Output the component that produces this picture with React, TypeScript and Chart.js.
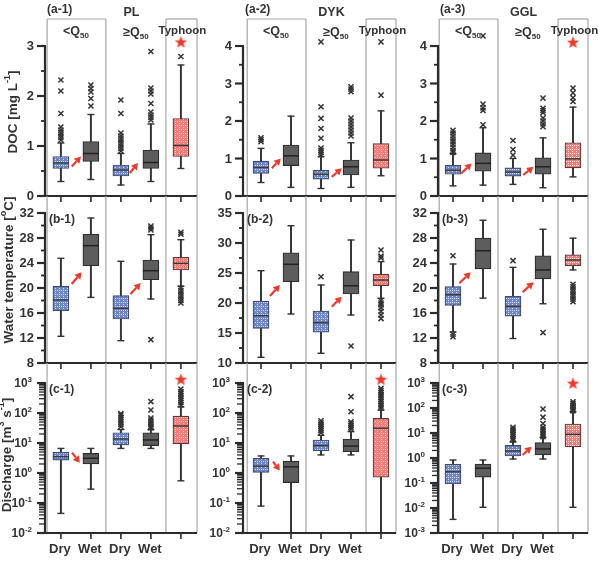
import React, { useEffect, useRef } from 'react';
import { Chart, registerables } from 'chart.js';

Chart.register(...registerables);

// ---------------- data ----------------
const CATEGORIES = ['Dry', 'Wet', 'Dry', 'Wet', 'Typhoon'];
const X_TICK_LABELS = ['Dry', 'Wet', 'Dry', 'Wet', ''];
const SITES = ['PL', 'DYK', 'GGL'];
const PANEL_TAGS = [
  ['(a-1)', '(a-2)', '(a-3)'],
  ['(b-1)', '(b-2)', '(b-3)'],
  ['(c-1)', '(c-2)', '(c-3)'],
];

// box stats per category: [lower whisker, Q1, median, Q3, upper whisker]
// DOC [mg L-1]
const PL_DOC = [
  [0.29, 0.55, 0.66, 0.79, 1.06],
  [0.33, 0.69, 0.85, 1.09, 1.63],
  [0.22, 0.40, 0.52, 0.62, 0.85],
  [0.29, 0.55, 0.67, 0.92, 1.44],
  [0.55, 0.79, 1.01, 1.55, 2.62],
];
const PL_DOC_OUT = [
  [2.32, 2.1, 1.65, 1.38, 1.32, 1.27, 1.22, 1.17, 1.12],
  [2.22, 2.15, 2.08, 1.95, 1.8],
  [1.92, 1.65, 1.26, 1.2, 1.15, 1.1, 1.05, 1.0, 0.95, 0.9],
  [2.89, 2.16, 2.1, 2.04, 1.85, 1.68, 1.62, 1.57, 1.52],
  [2.79],
];
const PL_DOC_STAR = 3.08;
const PL_DOC_ARROWS = [[0.36, 0.59, 0.67, 0.79], [2.3, 0.46, 2.57, 0.66]];

const DYK_DOC = [
  [0.36, 0.6, 0.76, 0.93, 1.27],
  [0.23, 0.81, 1.07, 1.36, 2.13],
  [0.2, 0.45, 0.58, 0.69, 1.05],
  [0.23, 0.56, 0.78, 0.96, 1.42],
  [0.54, 0.74, 0.96, 1.4, 2.27],
];
const DYK_DOC_OUT = [
  [1.55, 1.5, 1.45],
  [],
  [4.11, 2.38, 2.07, 1.8, 1.54, 1.28, 1.22, 1.16, 1.1],
  [2.91, 2.85, 2.78, 2.08, 2.0, 1.92, 1.84, 1.76, 1.68, 1.6],
  [4.11, 2.69],
];
const DYK_DOC_STAR = null;
const DYK_DOC_ARROWS = [[0.36, 0.74, 0.66, 1.0], [2.36, 0.51, 2.69, 0.74]];

const GGL_DOC = [
  [0.27, 0.58, 0.69, 0.82, 1.13],
  [0.29, 0.66, 0.87, 1.15, 1.82],
  [0.31, 0.53, 0.64, 0.75, 1.0],
  [0.22, 0.58, 0.78, 1.02, 1.55],
  [0.51, 0.75, 0.99, 1.42, 2.37],
];
const GGL_DOC_OUT = [
  [1.75, 1.68, 1.6, 1.52, 1.45, 1.38, 1.3, 1.22, 1.16],
  [4.27, 2.45, 2.35, 2.28, 1.9],
  [1.48, 1.24, 1.09],
  [2.61, 2.34, 2.28, 2.22, 2.08, 2.0, 1.92, 1.85],
  [2.88, 2.75, 2.62, 2.52],
];
const GGL_DOC_STAR = 4.1;
const GGL_DOC_ARROWS = [[0.27, 0.6, 0.62, 0.87], [2.34, 0.56, 2.68, 0.78]];

// Water temperature [°C]
const PL_WT = [
  [12.27, 16.37, 18.08, 20.27, 24.75],
  [18.5, 23.57, 26.77, 28.59, 31.2],
  [11.57, 15.04, 16.75, 18.77, 24.27],
  [18.24, 21.33, 22.77, 24.48, 28.53],
  [20.27, 22.88, 23.95, 24.91, 27.73],
];
const PL_WT_OUT = [
  [],
  [],
  [],
  [29.9, 29.6, 29.3, 11.73],
  [28.9, 28.6, 20.0, 19.6, 19.2, 18.8, 18.4, 18.0, 17.6],
];
const PL_WT_ARROWS = [[0.36, 20.64, 0.69, 22.51], [2.32, 19.04, 2.66, 20.8]];

const DYK_WT = [
  [10.95, 15.78, 17.88, 20.33, 25.38],
  [18.17, 23.55, 26.45, 28.38, 32.88],
  [11.62, 15.12, 16.72, 18.67, 23.0],
  [18.0, 21.5, 22.88, 25.22, 30.5],
  [20.78, 22.88, 23.83, 24.83, 26.9],
];
const DYK_WT_OUT = [
  [],
  [],
  [24.38],
  [12.83],
  [28.83, 27.8, 27.5, 20.4, 20.0, 19.7, 19.2, 18.6, 18.0, 17.4],
];
const DYK_WT_ARROWS = [[0.3, 21.17, 0.63, 23.0], [2.36, 19.38, 2.69, 21.05]];

const GGL_WT = [
  [12.97, 17.21, 18.92, 20.24, 23.84],
  [18.38, 23.05, 25.96, 27.97, 30.84],
  [11.92, 15.51, 17.06, 18.65, 23.3],
  [17.48, 21.45, 22.89, 25.16, 29.4],
  [22.89, 23.57, 24.48, 25.32, 27.97],
];
const GGL_WT_OUT = [
  [25.16, 12.6, 12.2],
  [],
  [24.37],
  [12.87],
  [20.6, 20.2, 19.8, 19.4, 19.0, 18.6, 18.2, 17.8],
];
const GGL_WT_ARROWS = [[0.21, 20.76, 0.59, 22.51], [2.32, 19.33, 2.68, 20.92]];

// Discharge [m3 s-1]
const PL_Q = [
  [0.045, 2.7, 3.5, 4.9, 6.6],
  [0.29, 2.0, 3.1, 4.5, 6.6],
  [6.6, 8.6, 13.6, 22, 28],
  [6.6, 8.2, 12.6, 22, 28],
  [0.55, 9.3, 37, 79, 160],
];
const PL_Q_OUT = [
  [],
  [],
  [35, 42, 50, 60, 72, 85, 95],
  [240, 126, 68, 58, 50, 42, 36, 32],
  [185, 220, 260, 310, 370, 440, 520, 630],
];
const PL_Q_STAR = 1330;
const PL_Q_ARROWS = [[0.37, 4.8, 0.63, 2.2]];

const DYK_Q = [
  [0.079, 1.05, 1.7, 3.1, 3.7],
  [0.01, 0.48, 1.6, 2.5, 3.7],
  [4.0, 5.5, 8.2, 12.6, 18],
  [4.0, 5.1, 7.9, 13.6, 24],
  [0.01, 0.72, 31, 66, 126],
];
const DYK_Q_OUT = [
  [],
  [],
  [22, 26, 30, 35, 40, 47, 55],
  [350, 110, 51, 44, 38, 33, 29],
  [145, 170, 200, 240, 290, 340, 400, 480, 560, 660],
];
const DYK_Q_STAR = 1330;
const DYK_Q_ARROWS = [[0.4, 2.4, 0.63, 1.2]];

const GGL_Q = [
  [0.0035, 0.091, 0.28, 0.56, 0.83],
  [0.0107, 0.17, 0.39, 0.57, 0.83],
  [0.91, 1.2, 1.9, 3.2, 4.5],
  [0.91, 1.32, 2.3, 4.1, 6.7],
  [0.0107, 2.8, 8.9, 23, 71],
];
const GGL_Q_OUT = [
  [],
  [],
  [5.2, 6.2, 7.4, 8.8, 10.5, 12.5, 14.5, 17],
  [91, 43, 24, 17, 14, 12, 10, 8.5, 7.2],
  [77, 88, 100, 115, 130, 150, 178],
];
const GGL_Q_STAR = 980;
const GGL_Q_ARROWS = [[2.32, 1.32, 2.62, 2.8]];

// axis ticks (log rows: exponents of ten)
const DOC_TICKS_PL = [0, 1, 2, 3];
const DOC_TICKS_DYK = [0, 1, 2, 3, 4];
const DOC_TICKS_GGL = [0, 1, 2, 3, 4];
const WT_TICKS_PL = [8, 12, 16, 20, 24, 28, 32];
const WT_TICKS_DYK = [10, 15, 20, 25, 30, 35];
const WT_TICKS_GGL = [8, 12, 16, 20, 24, 28, 32];
const Q_EXP_PL = [-2, -1, 0, 1, 2, 3];
const Q_EXP_DYK = [-2, -1, 0, 1, 2, 3];
const Q_EXP_GGL = [-3, -2, -1, 0, 1, 2, 3];

type Part = { t: string; s?: 'sup' | 'sub' };
const Y_TITLES: Part[][] = [
  [{ t: 'DOC [mg L' }, { t: '-1', s: 'sup' }, { t: ']' }],
  [{ t: 'Water temperature [' }, { t: 'o', s: 'sup' }, { t: 'C]' }],
  [{ t: 'Discharge [m' }, { t: '3', s: 'sup' }, { t: ' s' }, { t: '-1', s: 'sup' }, { t: ']' }],
];

// ---------------- layout / style ----------------
type PanelSpec = {
  row: number; col: number; box: number[][]; out: number[][]; star: number | null;
  arrows: number[][]; ticks: number[]; log: boolean;
};

const PANELS: PanelSpec[] = [
  { row: 0, col: 0, box: PL_DOC, out: PL_DOC_OUT, star: PL_DOC_STAR, arrows: PL_DOC_ARROWS, ticks: DOC_TICKS_PL, log: false },
  { row: 0, col: 1, box: DYK_DOC, out: DYK_DOC_OUT, star: DYK_DOC_STAR, arrows: DYK_DOC_ARROWS, ticks: DOC_TICKS_DYK, log: false },
  { row: 0, col: 2, box: GGL_DOC, out: GGL_DOC_OUT, star: GGL_DOC_STAR, arrows: GGL_DOC_ARROWS, ticks: DOC_TICKS_GGL, log: false },
  { row: 1, col: 0, box: PL_WT, out: PL_WT_OUT, star: null, arrows: PL_WT_ARROWS, ticks: WT_TICKS_PL, log: false },
  { row: 1, col: 1, box: DYK_WT, out: DYK_WT_OUT, star: null, arrows: DYK_WT_ARROWS, ticks: WT_TICKS_DYK, log: false },
  { row: 1, col: 2, box: GGL_WT, out: GGL_WT_OUT, star: null, arrows: GGL_WT_ARROWS, ticks: WT_TICKS_GGL, log: false },
  { row: 2, col: 0, box: PL_Q, out: PL_Q_OUT, star: PL_Q_STAR, arrows: PL_Q_ARROWS, ticks: Q_EXP_PL, log: true },
  { row: 2, col: 1, box: DYK_Q, out: DYK_Q_OUT, star: DYK_Q_STAR, arrows: DYK_Q_ARROWS, ticks: Q_EXP_DYK, log: true },
  { row: 2, col: 2, box: GGL_Q, out: GGL_Q_OUT, star: GGL_Q_STAR, arrows: GGL_Q_ARROWS, ticks: Q_EXP_GGL, log: true },
];

const COLS = [
  { axisX: 45, right: 197, xMin: -0.53 },
  { axisX: 243, right: 396, xMin: -0.6 },
  { axisX: 438, right: 588, xMin: -0.5 },
];
const ROWS = [
  { top: 19, tickTop: 46, bottom: 196 },
  { top: 196, tickTop: 213, bottom: 363 },
  { top: 363, tickTop: 383, bottom: 533 },
];
const TITLE_POS = [[13, 112], [9, 270], [7, 455]];
const PX_PER_CAT = 30;
const FRAME_LEFT = -0.46;
const PAD_L = 45, PAD_T = 19, PAD_R = 14, PAD_B = 26;

const FONT = '"Liberation Sans", Arial, sans-serif';
const TXT = '#333333';
const AXIS = '#2b2b2b';
const GRID = '#a5a5a5';
const RED = '#ee3a2b';

function geometry(p: PanelSpec) {
  const c = COLS[p.col], r = ROWS[p.row];
  const plotW = c.right - c.axisX, plotH = r.bottom - r.top;
  return {
    left: c.axisX - PAD_L,
    top: r.top - PAD_T,
    width: plotW + PAD_L + PAD_R,
    height: plotH + PAD_T + PAD_B,
    xMin: c.xMin,
    xMax: c.xMin + plotW / PX_PER_CAT,
  };
}

function yRange(p: PanelSpec) {
  const r = ROWS[p.row];
  const t0 = p.ticks[0], t1 = p.ticks[p.ticks.length - 1];
  const per = (t1 - t0) / (r.bottom - r.tickTop);
  const topV = t1 + (r.tickTop - r.top) * per;
  return p.log ? { min: Math.pow(10, t0), max: Math.pow(10, topV) } : { min: t0, max: topV };
}

function rich(ctx: CanvasRenderingContext2D, parts: Part[], x: number, y: number, align: 'left' | 'center' | 'right', size: number) {
  const small = Math.round(size * 0.66);
  const widths = parts.map((q) => {
    ctx.font = `bold ${q.s ? small : size}px ${FONT}`;
    return ctx.measureText(q.t).width;
  });
  const total = widths.reduce((a, b) => a + b, 0);
  let cx = align === 'left' ? x : align === 'center' ? x - total / 2 : x - total;
  ctx.textAlign = 'left';
  ctx.textBaseline = 'middle';
  parts.forEach((q, i) => {
    ctx.font = `bold ${q.s ? small : size}px ${FONT}`;
    const dy = q.s === 'sup' ? -size * 0.38 : q.s === 'sub' ? size * 0.3 : 0;
    ctx.fillText(q.t, cx, y + dy);
    cx += widths[i];
  });
}

function seg(ctx: CanvasRenderingContext2D, x0: number, y0: number, x1: number, y1: number) {
  ctx.beginPath();
  ctx.moveTo(x0, y0);
  ctx.lineTo(x1, y1);
  ctx.stroke();
}

function drawArrow(ctx: CanvasRenderingContext2D, x0: number, y0: number, x1: number, y1: number) {
  const ang = Math.atan2(y1 - y0, x1 - x0);
  const hl = 6.5, hw = 3.8;
  const bx = x1 - hl * Math.cos(ang), by = y1 - hl * Math.sin(ang);
  ctx.strokeStyle = RED;
  ctx.lineWidth = 2.2;
  seg(ctx, x0, y0, bx, by);
  ctx.fillStyle = RED;
  ctx.beginPath();
  ctx.moveTo(x1, y1);
  ctx.lineTo(bx + hw * Math.sin(ang), by - hw * Math.cos(ang));
  ctx.lineTo(bx - hw * Math.sin(ang), by + hw * Math.cos(ang));
  ctx.closePath();
  ctx.fill();
}

function panelPlugin(p: PanelSpec, g: ReturnType<typeof geometry>) {
  return {
    id: 'panelDecor',
    beforeDatasetsDraw(chart: any) {
      const { ctx, chartArea: a } = chart;
      const x = chart.scales.x;
      ctx.save();
      ctx.strokeStyle = GRID;
      ctx.lineWidth = 1.2;
      const fl = x.getPixelForValue(FRAME_LEFT);
      const xs = [fl, x.getPixelForValue(1.5), x.getPixelForValue(3.5), a.right];
      xs.forEach((px: number) => seg(ctx, px, a.top, px, a.bottom));
      if (p.row === 0) {
        seg(ctx, fl, a.top, xs[1], a.top);
        seg(ctx, xs[2], a.top, a.right, a.top);
      }
      ctx.restore();
    },
    afterDatasetsDraw(chart: any) {
      const { ctx, chartArea: a } = chart;
      const xs = chart.scales.x, ys = chart.scales.y;
      ctx.save();
      // arrows
      p.arrows.forEach((ar) => {
        drawArrow(ctx, xs.getPixelForValue(ar[0]), ys.getPixelForValue(ar[1]), xs.getPixelForValue(ar[2]), ys.getPixelForValue(ar[3]));
      });
      // y axis
      const tv = (t: number) => (p.log ? Math.pow(10, t) : t);
      const topTickPx = ys.getPixelForValue(tv(p.ticks[p.ticks.length - 1]));
      ctx.strokeStyle = AXIS;
      ctx.lineWidth = 2.2;
      seg(ctx, a.left, topTickPx - 1, a.left, a.bottom + 1);
      // minor ticks
      const minors: number[] = [];
      for (let i = 0; i < p.ticks.length - 1; i++) {
        if (p.log) {
          for (let m = 2; m <= 9; m++) minors.push(m * Math.pow(10, p.ticks[i]));
        } else {
          minors.push((p.ticks[i] + p.ticks[i + 1]) / 2);
        }
      }
      ctx.lineWidth = p.log ? 1.3 : 1.8;
      minors.forEach((v) => {
        const py = ys.getPixelForValue(v);
        seg(ctx, a.left - (p.log ? 6 : 4), py, a.left, py);
      });
      // major ticks + labels
      ctx.fillStyle = TXT;
      p.ticks.forEach((t) => {
        const py = ys.getPixelForValue(tv(t));
        ctx.lineWidth = 2.2;
        ctx.strokeStyle = AXIS;
        seg(ctx, a.left - 8, py, a.left, py);
        if (p.log) {
          rich(ctx, [{ t: '10' }, { t: String(t), s: 'sup' }], a.left - 13, py + 1, 'right', 12);
        } else {
          rich(ctx, [{ t: String(t) }], a.left - 11, py + 0.5, 'right', 13);
        }
      });
      // x axis
      ctx.strokeStyle = AXIS;
      ctx.lineWidth = 2.2;
      seg(ctx, a.left - 1, a.bottom, a.right, a.bottom);
      ctx.lineWidth = 1.6;
      CATEGORIES.forEach((_, i) => {
        const px = xs.getPixelForValue(i);
        seg(ctx, px, a.bottom, px, a.bottom + 6);
        if (p.row === 2 && X_TICK_LABELS[i]) {
          ctx.fillStyle = TXT;
          rich(ctx, [{ t: X_TICK_LABELS[i] }], px - 1, a.bottom + 16, 'center', 13);
        }
      });
      // panel tag & headers
      ctx.fillStyle = TXT;
      const tag = PANEL_TAGS[p.row][p.col];
      if (p.row === 0) {
        rich(ctx, [{ t: tag }], a.left + 2, a.top - 9, 'left', 12);
        rich(ctx, [{ t: SITES[p.col] }], xs.getPixelForValue(2.35), a.top - 6, 'center', 12.5);
        rich(ctx, [{ t: '<Q' }, { t: '50', s: 'sub' }], xs.getPixelForValue(0.5), a.top + 13, 'center', 12.5);
        rich(ctx, [{ t: '\u2265Q' }, { t: '50', s: 'sub' }], xs.getPixelForValue(2.5), a.top + 14, 'center', 12.5);
        rich(ctx, [{ t: 'Typhoon' }], xs.getPixelForValue(4.05), a.top + 12, 'center', 11.5);
      } else {
        rich(ctx, [{ t: tag }], a.left + 4, ys.getPixelForValue(tv(p.ticks[p.ticks.length - 1])) + 6.5, 'left', 12);
      }
      // y title (first column)
      if (p.col === 0) {
        const [tx, ty] = TITLE_POS[p.row];
        ctx.save();
        ctx.translate(tx - g.left, ty - g.top);
        ctx.rotate(-Math.PI / 2);
        ctx.fillStyle = TXT;
        rich(ctx, Y_TITLES[p.row], 0, 0, 'center', 13.5);
        ctx.restore();
      }
      ctx.restore();
    },
  };
}

function makePattern(ctx: CanvasRenderingContext2D, base: string, dot: string) {
  const c = document.createElement('canvas');
  c.width = 4;
  c.height = 4;
  const g = c.getContext('2d')!;
  g.fillStyle = base;
  g.fillRect(0, 0, 4, 4);
  g.fillStyle = dot;
  g.fillRect(1, 1, 1, 1);
  g.fillRect(3, 3, 1, 1);
  g.fillRect(3, 1, 1, 1);
  return ctx.createPattern(c, 'repeat');
}

function makeStar(color: string, size: number) {
  const c = document.createElement('canvas');
  c.width = size;
  c.height = size;
  const g = c.getContext('2d')!;
  const R = size / 2, r = R * 0.42;
  g.beginPath();
  for (let i = 0; i < 10; i++) {
    const ang = -Math.PI / 2 + (i * Math.PI) / 5;
    const rad = i % 2 ? r : R;
    g.lineTo(R + rad * Math.cos(ang), R + 0.5 + rad * Math.sin(ang));
  }
  g.closePath();
  g.fillStyle = color;
  g.fill();
  return c;
}

function BoxPanel({ p }: { p: PanelSpec }) {
  const ref = useRef<HTMLCanvasElement>(null);
  const g = geometry(p);
  useEffect(() => {
    const canvas = ref.current!;
    const ctx = canvas.getContext('2d')!;
    const dryFill = makePattern(ctx, '#6e86c6', '#d5def4');
    const tyFill = makePattern(ctx, '#f27c78', '#ffe0dc');
    const fills = [dryFill, '#5d5d5d', dryFill, '#5d5d5d', tyFill];
    const borders = ['#3f4a6e', '#2e2e2e', '#3f4a6e', '#2e2e2e', '#5a3a3a'];
    const medColors = ['#3a3a3a', '#222222', '#3a3a3a', '#222222', '#3a3a3a'];
    const star = makeStar(RED, 13);
    const yr = yRange(p);

    const whiskers = p.box.map((b, i) => ({ x: i, y: [b[0], b[4]] }));
    const boxes = p.box.map((b, i) => ({ x: i, y: [b[1], b[3]] }));
    const medians = p.box.map((b, i) => ({ x: i, y: b[2] }));
    const caps = p.box.flatMap((b, i) => [{ x: i, y: b[0] }, { x: i, y: b[4] }]);
    const outliers = p.out.flatMap((arr, i) => arr.map((v) => ({ x: i, y: v })));
    const stars = p.star != null ? [{ x: 4, y: p.star }] : [];

    const chart = new Chart(canvas, {
      type: 'bar',
      data: {
        datasets: [
          { type: 'scatter', data: stars, pointStyle: star, radius: 7, order: 0 } as any,
          { type: 'scatter', data: outliers, pointStyle: 'crossRot', radius: 3.6, borderWidth: 1.5, borderColor: '#333', backgroundColor: '#333', order: 1 } as any,
          { type: 'scatter', data: medians, pointStyle: 'line', radius: 8, borderWidth: 1.5, borderColor: medColors, order: 2 } as any,
          { type: 'bar', data: boxes, barThickness: 16, backgroundColor: fills, borderColor: borders, borderWidth: 1.2, borderSkipped: false, grouped: false, order: 3 } as any,
          { type: 'scatter', data: caps, pointStyle: 'line', radius: 3.5, borderWidth: 1.4, borderColor: '#333', order: 4 } as any,
          { type: 'bar', data: whiskers, barThickness: 1.3, backgroundColor: '#333', borderWidth: 0, grouped: false, order: 5 } as any,
        ],
      },
      options: {
        animation: false,
        responsive: false,
        maintainAspectRatio: false,
        events: [],
        layout: { padding: { left: PAD_L, top: PAD_T, right: PAD_R, bottom: PAD_B } },
        plugins: { legend: { display: false }, tooltip: { enabled: false } },
        scales: {
          x: { type: 'linear', display: false, min: g.xMin, max: g.xMax, offset: false, bounds: 'data' },
          y: { type: p.log ? 'logarithmic' : 'linear', display: false, min: yr.min, max: yr.max, beginAtZero: false, bounds: 'data' },
        },
      } as any,
      plugins: [panelPlugin(p, g)],
    });
    return () => chart.destroy();
  }, []);
  return (
    <canvas
      ref={ref}
      width={g.width}
      height={g.height}
      style={{ position: 'absolute', left: g.left, top: g.top, width: g.width, height: g.height }}
    />
  );
}

export default function App() {
  return (
    <div style={{ position: 'absolute', left: 0, top: 0, width: 598, height: 563, background: '#ffffff', overflow: 'hidden' }}>
      {PANELS.map((p, i) => (
        <BoxPanel key={i} p={p} />
      ))}
    </div>
  );
}
